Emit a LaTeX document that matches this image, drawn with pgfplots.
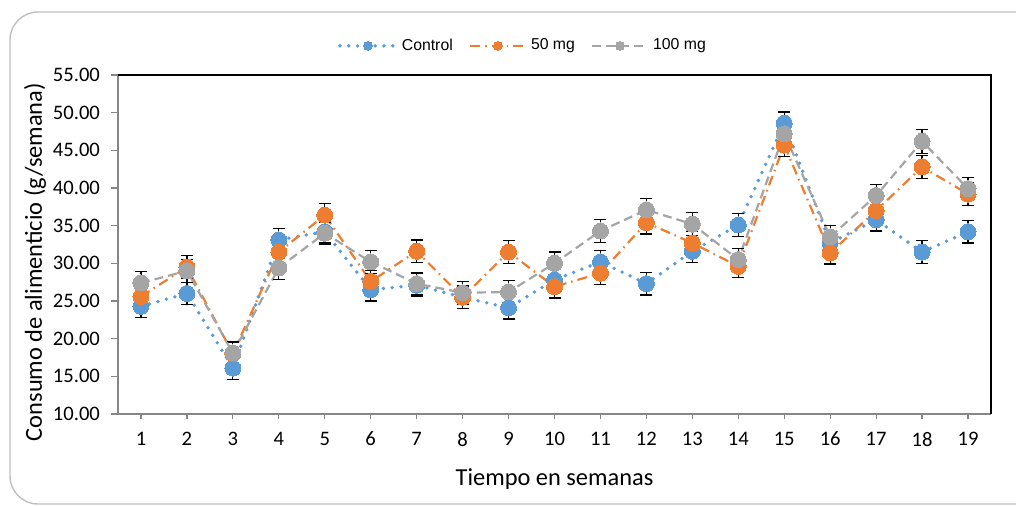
\documentclass[border=0pt]{standalone}
\usepackage{pgfplots}
\pgfplotsset{compat=1.18}
\usepackage{pgfplotstable}
\usepackage{fontspec}
\setmainfont{Carlito}
\newfontfamily\legfont{Liberation Sans}
\definecolor{cblue}{HTML}{5B9BD5}
\definecolor{corange}{HTML}{ED7D31}
\definecolor{cgray}{HTML}{A5A5A5}
\definecolor{axgray}{HTML}{868686}
\definecolor{framegray}{HTML}{BFBFBF}

\pgfplotstableread{
x y e
1 24.3 1.5
2 26.0 1.5
3 16.1 1.5
4 33.1 1.5
5 34.2 1.5
6 26.5 1.5
7 27.1 1.5
8 25.5 1.5
9 24.1 1.5
10 27.8 1.5
11 30.2 1.5
12 27.3 1.5
13 31.6 1.5
14 35.1 1.5
15 48.6 1.5
16 32.7 1.5
17 35.8 1.5
18 31.5 1.5
19 34.2 1.5
}\ctrl

\pgfplotstableread{
x y e
1 25.6 1.5
2 29.5 1.5
3 18.0 1.5
4 31.5 1.5
5 36.4 1.5
6 27.6 1.5
7 31.6 1.5
8 25.5 1.5
9 31.5 1.5
10 26.9 1.5
11 28.7 1.5
12 35.4 1.5
13 32.7 1.5
14 29.6 1.5
15 45.7 1.5
16 31.4 1.5
17 37.0 1.5
18 42.8 1.5
19 39.2 1.5
}\fifty

\pgfplotstableread{
x y e
1 27.4 1.5
2 29.0 1.5
3 18.1 1.5
4 29.4 1.5
5 34.0 1.5
6 30.2 1.5
7 27.3 1.5
8 26.1 1.5
9 26.2 1.5
10 30.0 1.5
11 34.3 1.5
12 37.1 1.5
13 35.2 1.5
14 30.5 1.5
15 47.2 1.5
16 33.5 1.5
17 39.0 1.5
18 46.2 1.6
19 39.9 1.5
}\hundred

\begin{document}
\begin{tikzpicture}
\path[use as bounding box] (-59pt,-45.5pt) rectangle (449pt,207pt);
\draw[framegray, line width=0.7pt, rounded corners=14pt] (-54pt,-45pt) rectangle (470pt,201pt);
\begin{axis}[
  at={(0,0)}, anchor=south west,
  width=436.5pt, height=169.5pt, scale only axis,
  xmin=0.5, xmax=19.5, ymin=10, ymax=55,
  xtick={1,...,19}, ytick={10,15,...,55},
  clip=false,
  axis line style={draw=none},
  tick align=outside,
  xtick pos=bottom, ytick pos=left,
  major tick length=3.5pt,
  tick style={axgray, line width=0.6pt},
  xtick style={/pgfplots/major tick length=2.5pt},
  /pgf/number format/assume math mode=true,
  yticklabel style={xshift=-2pt, /pgf/number format/.cd, fixed, fixed zerofill, precision=2},
  xticklabel style={yshift=-2pt},
  ticklabel style={font=\fontsize{10.3}{12}\selectfont},
  label style={font=\fontsize{12.2}{14}\selectfont},
  xlabel={Tiempo en semanas},
  ylabel={Consumo de alimenticio (g/semana)},
  xlabel style={at={(axis description cs:0.5,-0.192)}, anchor=center},
  ylabel style={at={(axis description cs:-0.095,0.448)}, anchor=center},
  legend style={at={(axis description cs:0.465,1.086)}, anchor=center,
    draw=none, fill=none, font=\legfont\fontsize{7.9}{9}\selectfont,
    /tikz/every even column/.append style={column sep=6pt}},
  legend columns=-1,
  legend image code/.code={\draw[mark repeat=2,mark phase=2,#1,mark size=2.2pt] plot coordinates {(0pt,0pt) (14pt,0pt) (28pt,0pt)};},
  error bars/y dir=both, error bars/y explicit,
  error bars/error bar style={black, solid, line width=0.6pt},
  error bars/error mark options={black, solid, rotate=90, mark size=3pt, line width=0.6pt},
]
\draw[axgray, line width=1pt] (rel axis cs:0,1) -- (rel axis cs:0,0) -- (rel axis cs:1,0);
\draw[black, line width=1pt] (rel axis cs:0,1) -- (rel axis cs:1,1) -- (rel axis cs:1,0);

\addplot[cblue, line width=1.9pt, line cap=round, dash pattern=on 0pt off 4.4pt,
  mark=*, mark size=4pt, mark options={solid, fill=cblue, draw=cblue, line width=0pt}]
  table[x=x, y=y, y error=e] {\ctrl};
\addlegendentry{Control}
\addplot[corange, line width=1.1pt, dash pattern=on 5pt off 2.5pt on 0.8pt off 2.5pt,
  mark=*, mark size=4pt, mark options={solid, fill=corange, draw=corange, line width=0pt}]
  table[x=x, y=y, y error=e] {\fifty};
\addlegendentry{50 mg}
\addplot[cgray, line width=1.1pt, dash pattern=on 4.5pt off 2.5pt,
  mark=*, mark size=4pt, mark options={solid, fill=cgray, draw=cgray, line width=0pt}]
  table[x=x, y=y, y error=e] {\hundred};
\addlegendentry{100 mg}
\end{axis}
\end{tikzpicture}
\end{document}
